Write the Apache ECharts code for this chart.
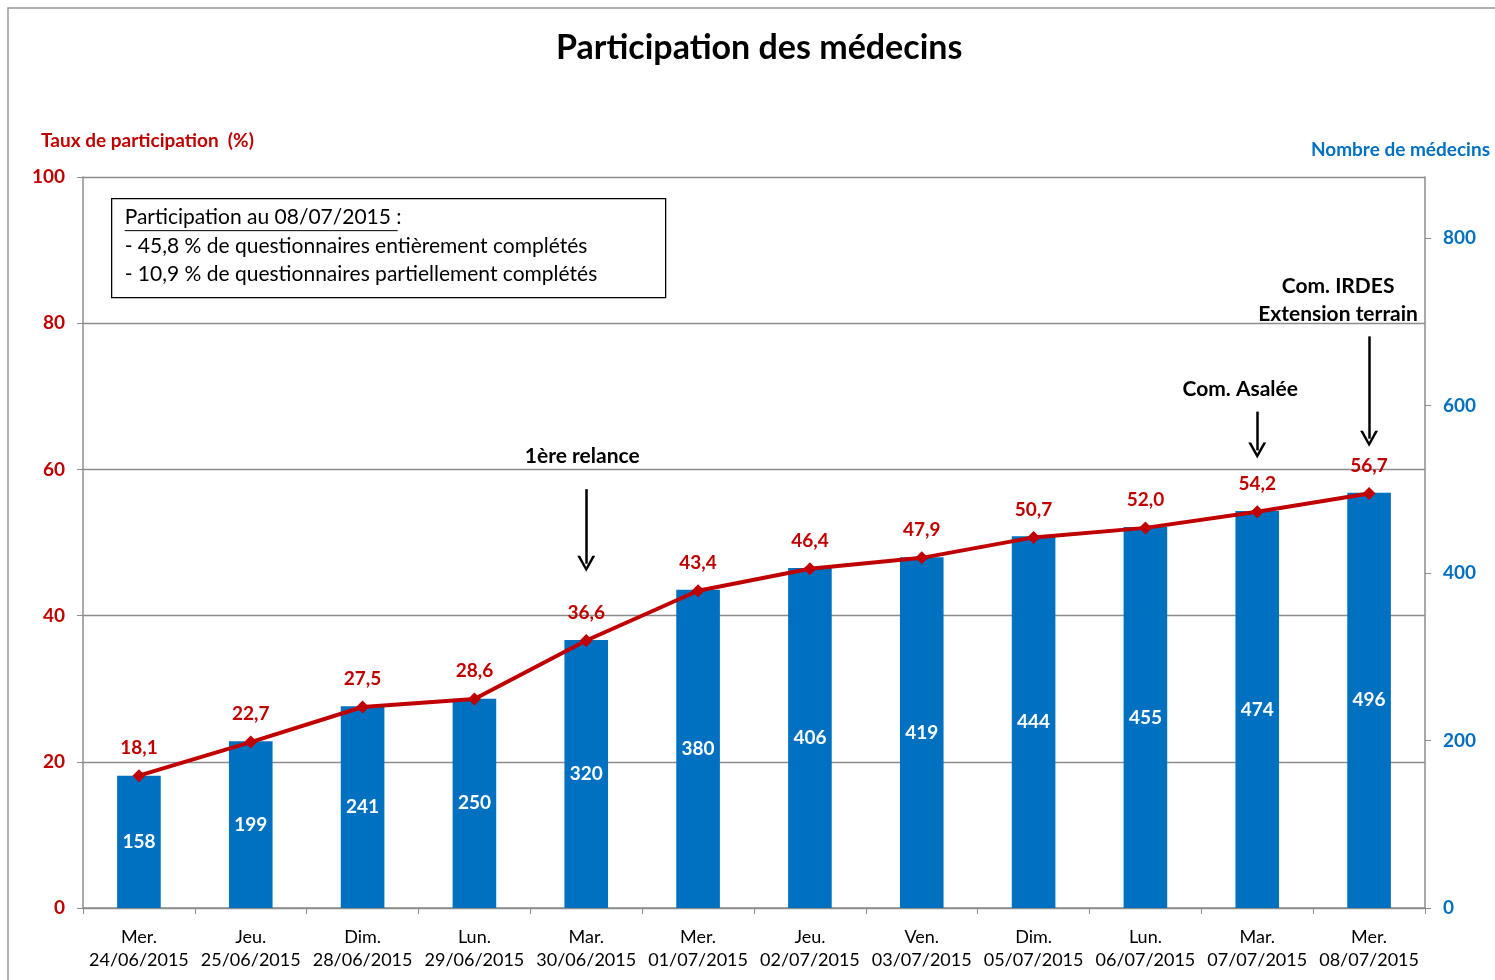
<!DOCTYPE html>
<html>
<head>
<meta charset="utf-8">
<script src="https://cdn.jsdelivr.net/npm/echarts@6/dist/echarts.min.js"></script>
<style>
  html, body { margin: 0; padding: 0; background: #fff; }
  #chart { width: 1495px; height: 980px; }
</style>
</head>
<body>
<div id="chart"></div>
<script>
const days = ["Mer.", "Jeu.", "Dim.", "Lun.", "Mar.", "Mer.", "Jeu.", "Ven.", "Dim.", "Lun.", "Mar.", "Mer."];
const dates = ["24/06/2015", "25/06/2015", "28/06/2015", "29/06/2015", "30/06/2015", "01/07/2015",
  "02/07/2015", "03/07/2015", "05/07/2015", "06/07/2015", "07/07/2015", "08/07/2015"];
const nbMedecins = [158, 199, 241, 250, 320, 380, 406, 419, 444, 455, 474, 496];
const tauxParticipation = [18.1, 22.7, 27.5, 28.6, 36.6, 43.4, 46.4, 47.9, 50.7, 52.0, 54.2, 56.7];
const leftTicks = { min: 0, max: 100, interval: 20 };
const rightTicks = { min: 0, max: 873, interval: 200 };

const categories = days.map((d, i) => d + "\n" + dates[i]);

const RED = "#C00000";
const BLUE = "#0070C0";
const GRID_GREY = "#8c8c8c";
const FONT = "Lato, 'Open Sans', sans-serif";

// open "V" arrow head pointing up (markLine rotates it along the line)
const arrowHead = "path://M0,10 L5,0 L10,10 L8.4,10 L5,3 L1.6,10 Z";

const arrowLine = (idx, from, to) => [
  { coord: [idx, from], symbol: "none" },
  { coord: [idx, to], symbol: arrowHead, symbolSize: [18, 16] }
];

const noteText = (idx, value, text, dx) => ({
  coord: [idx, value],
  symbol: "rect",
  symbolSize: 1,
  itemStyle: { color: "rgba(0,0,0,0)" },
  label: {
    show: true,
    formatter: text,
    position: "inside",
    offset: [dx, 0],
    color: "#000",
    fontFamily: FONT,
    fontWeight: "bold",
    fontSize: 21,
    lineHeight: 28
  }
});

const chart = echarts.init(document.getElementById("chart"));

chart.setOption({
  animation: false,
  textStyle: { fontFamily: FONT },
  title: {
    text: "Participation des médecins",
    left: 551,
    top: 26,
    textStyle: { fontFamily: FONT, fontSize: 34, fontWeight: "bold", color: "#000" }
  },
  grid: { left: 83, right: 70, top: 177, bottom: 72 },
  graphic: [
    {
      type: "rect",
      shape: { x: 8, y: 8, width: 1500, height: 1000 },
      style: { fill: "none", stroke: "#999", lineWidth: 1.5 },
      silent: true
    },
    {
      type: "text",
      left: 41,
      top: 131,
      style: { text: "Taux de participation  (%)", fill: RED, font: "bold 19px " + FONT }
    },
    {
      type: "text",
      right: 5,
      top: 140,
      style: { text: "Nombre de médecins", fill: BLUE, font: "bold 19px " + FONT }
    },
    {
      type: "group",
      left: 111,
      top: 198,
      children: [
        {
          type: "rect",
          shape: { x: 0, y: 0, width: 554, height: 99 },
          style: { fill: "#fff", stroke: "#000", lineWidth: 1.3 }
        },
        {
          type: "text",
          x: 13,
          y: 8,
          style: {
            text: "Participation au 08/07/2015 :",
            fill: "#000",
            font: "21px " + FONT
          }
        },
        {
          type: "line",
          shape: { x1: 13, y1: 32, x2: 286, y2: 32 },
          style: { stroke: "#000", lineWidth: 1 }
        },
        {
          type: "text",
          x: 13,
          y: 34,
          style: {
            text: "- 45,8 % de questionnaires entièrement complétés\n- 10,9 % de questionnaires partiellement complétés",
            fill: "#000",
            font: "21px " + FONT,
            lineHeight: 28
          }
        }
      ]
    }
  ],
  xAxis: {
    type: "category",
    data: categories,
    axisLine: { lineStyle: { color: GRID_GREY, width: 1.5 } },
    axisTick: { show: true, length: 6, lineStyle: { color: GRID_GREY } },
    axisLabel: {
      interval: 0, color: "#000", fontSize: 18, lineHeight: 23, margin: 18, fontFamily: FONT
    }
  },
  yAxis: [
    {
      type: "value",
      min: leftTicks.min,
      max: leftTicks.max,
      interval: leftTicks.interval,
      axisLine: { show: true, lineStyle: { color: GRID_GREY, width: 1.5 } },
      axisTick: { show: true, length: 6, lineStyle: { color: GRID_GREY } },
      splitLine: { show: true, lineStyle: { color: GRID_GREY, width: 1.3 } },
      axisLabel: { color: RED, fontWeight: "bold", fontSize: 19, margin: 18, fontFamily: FONT }
    },
    {
      type: "value",
      position: "right",
      min: rightTicks.min,
      max: rightTicks.max,
      interval: rightTicks.interval,
      axisLine: { show: true, lineStyle: { color: GRID_GREY, width: 1.5 } },
      axisTick: { show: true, length: 6, lineStyle: { color: GRID_GREY } },
      splitLine: { show: false },
      axisLabel: {
        color: BLUE, fontWeight: "bold", fontSize: 19, margin: 18, fontFamily: FONT,
        showMaxLabel: false
      }
    }
  ],
  series: [
    {
      name: "Nombre de médecins",
      type: "bar",
      yAxisIndex: 1,
      data: nbMedecins,
      barWidth: "39%",
      itemStyle: { color: BLUE },
      label: {
        show: true,
        position: "inside",
        color: "#fff",
        fontWeight: "bold",
        fontSize: 19,
        fontFamily: FONT
      }
    },
    {
      name: "Taux de participation",
      type: "line",
      yAxisIndex: 0,
      data: tauxParticipation,
      symbol: "diamond",
      symbolSize: 13,
      lineStyle: { color: RED, width: 4 },
      itemStyle: { color: RED },
      z: 5,
      label: {
        show: true,
        position: "top",
        distance: 12,
        color: RED,
        fontWeight: "bold",
        fontSize: 19,
        fontFamily: FONT,
        formatter: (p) => p.value.toFixed(1).replace(".", ",")
      },
      markLine: {
        silent: true,
        animation: false,
        label: { show: false },
        lineStyle: { color: "#000", width: 2.5, type: "solid" },
        data: [
          arrowLine(4, 57.3, 47.1),
          arrowLine(10, 67.9, 62.6),
          arrowLine(11, 78.2, 64.2)
        ]
      },
      markPoint: {
        silent: true,
        animation: false,
        data: [
          noteText(4, 61.8, "1ère relance", -4),
          noteText(10, 70.9, "Com. Asalée", -17),
          noteText(11, 83.1, "Com. IRDES\nExtension terrain", -31)
        ]
      }
    }
  ]
});
</script>
</body>
</html>
